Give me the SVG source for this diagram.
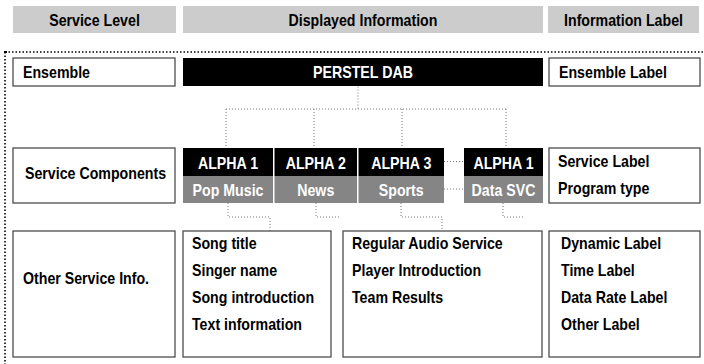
<svg xmlns="http://www.w3.org/2000/svg" width="704" height="364" viewBox="0 0 704 364">
<style>
text{font-family:"Liberation Sans",Arial,sans-serif;font-weight:bold;font-size:16.5px;fill:#000}
.hdr{fill:#cccccc}
.box{fill:#fff;stroke:#4d4d4d;stroke-width:1.3}
.blk{fill:#000}
.gry{fill:#858585}
.w{fill:#fff}
.c{text-anchor:middle}
.dot{fill:none;stroke:#777;stroke-width:1;stroke-dasharray:1 2}
.frame{fill:none;stroke:#000;stroke-width:1.6;stroke-dasharray:1.5 2}
</style>
<g id="headers">
<rect class="hdr" x="13" y="6" width="163" height="27"/>
<text class="c" transform="translate(94.5,25.5) scale(0.86,1)">Service Level</text>
<rect class="hdr" x="183" y="6" width="360" height="27"/>
<text class="c" transform="translate(363,25.5) scale(0.86,1)">Displayed Information</text>
<rect class="hdr" x="548" y="6" width="151" height="27"/>
<text class="c" transform="translate(623.5,25.5) scale(0.86,1)">Information Label</text>
</g>
<g id="frame">
<path class="frame" d="M5,52 H704 M5,52 V364"/>
<rect x="4" y="51" width="3" height="2" fill="#000"/>
</g>
<g id="connectors">
<path class="dot" d="M358,86.5 V109 M226,109 H506 M226,109 V148 M314,109 V148 M402,109 V148 M506,109 V148"/>
<path class="dot" d="M444,161.5 H464 M444,189 H464"/>
<path class="dot" d="M228,203 V217 H270 V231 M316,203 V217 H340 M401,203 V217 H442 V231 M503,203 V217 H525"/>
</g>
<g id="ensemble-level">
<rect class="box" x="13" y="58" width="162" height="28"/>
<text transform="translate(23,77.5) scale(0.86,1)">Ensemble</text>
</g>
<g id="perstel-dab">
<rect class="blk" x="183" y="58" width="360" height="28"/>
<text class="c w" transform="translate(363,77.5) scale(0.86,1)">PERSTEL DAB</text>
</g>
<g id="ensemble-label">
<rect class="box" x="549" y="58" width="151" height="28"/>
<text transform="translate(559,77.5) scale(0.86,1)">Ensemble Label</text>
</g>
<g id="service-components">
<rect class="box" x="13" y="148" width="162" height="55"/>
<text transform="translate(25,178.5) scale(0.86,1)">Service Components</text>
</g>
<g id="alpha1-pop">
<rect class="blk" x="183" y="148" width="90" height="28"/>
<rect class="gry" x="183" y="176" width="90" height="27"/>
<text class="c w" transform="translate(228,168.5) scale(0.86,1)">ALPHA 1</text>
<text class="c w" transform="translate(228,195.5) scale(0.86,1)">Pop Music</text>
</g>
<g id="alpha2-news">
<rect class="blk" x="274.5" y="148" width="82.5" height="28"/>
<rect class="gry" x="274.5" y="176" width="82.5" height="27"/>
<text class="c w" transform="translate(315.75,168.5) scale(0.86,1)">ALPHA 2</text>
<text class="c w" transform="translate(315.75,195.5) scale(0.86,1)">News</text>
</g>
<g id="alpha3-sports">
<rect class="blk" x="358.5" y="148" width="85.5" height="28"/>
<rect class="gry" x="358.5" y="176" width="85.5" height="27"/>
<text class="c w" transform="translate(401.25,168.5) scale(0.86,1)">ALPHA 3</text>
<text class="c w" transform="translate(401.25,195.5) scale(0.86,1)">Sports</text>
</g>
<g id="alpha1-data">
<rect class="blk" x="464" y="148" width="79" height="28"/>
<rect class="gry" x="464" y="176" width="79" height="27"/>
<text class="c w" transform="translate(503.5,168.5) scale(0.86,1)">ALPHA 1</text>
<text class="c w" transform="translate(503.5,195.5) scale(0.86,1)">Data SVC</text>
</g>
<g id="service-label">
<rect class="box" x="549" y="148" width="151" height="55"/>
<text transform="translate(558,167) scale(0.86,1)">Service Label</text>
<text transform="translate(558,194) scale(0.86,1)">Program type</text>
</g>
<g id="other-service-info">
<rect class="box" x="13" y="231" width="162" height="126"/>
<text transform="translate(23,283.5) scale(0.86,1)">Other Service Info.</text>
</g>
<g id="pop-info">
<rect class="box" x="183" y="231" width="148" height="126"/>
<text transform="translate(192,248.5) scale(0.86,1)">Song title</text>
<text transform="translate(192,275.5) scale(0.86,1)">Singer name</text>
<text transform="translate(192,302.5) scale(0.86,1)">Song introduction</text>
<text transform="translate(192,329.5) scale(0.86,1)">Text information</text>
</g>
<g id="sports-info">
<rect class="box" x="343" y="231" width="199" height="126"/>
<text transform="translate(352,248.5) scale(0.86,1)">Regular Audio Service</text>
<text transform="translate(352,275.5) scale(0.86,1)">Player Introduction</text>
<text transform="translate(352,302.5) scale(0.86,1)">Team Results</text>
</g>
<g id="dynamic-label">
<rect class="box" x="549" y="231" width="151" height="126"/>
<text transform="translate(561,248.5) scale(0.86,1)">Dynamic Label</text>
<text transform="translate(561,275.5) scale(0.86,1)">Time Label</text>
<text transform="translate(561,302.5) scale(0.86,1)">Data Rate Label</text>
<text transform="translate(561,329.5) scale(0.86,1)">Other Label</text>
</g>
</svg>
